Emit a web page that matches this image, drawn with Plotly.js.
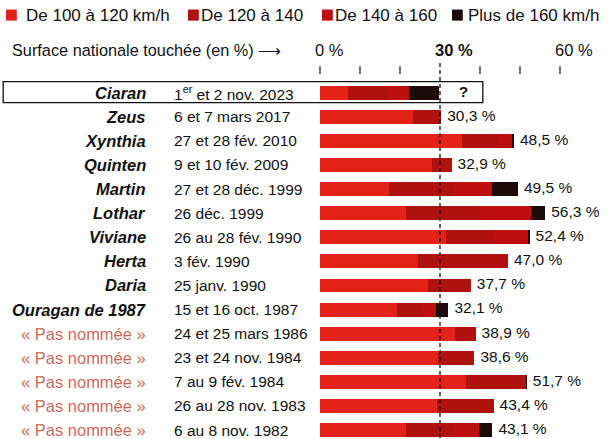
<!DOCTYPE html>
<html>
<head>
<meta charset="utf-8">
<script src="https://cdn.plot.ly/plotly-3.0.1.min.js"></script>
<style>html,body{margin:0;padding:0;background:#fff;}#chart{width:608px;height:439px;}</style>
</head>
<body>
<div id="chart"></div>
<script>
// ---- data ----
const names = ["Ciaran","Zeus","Xynthia","Quinten","Martin","Lothar","Viviane","Herta","Daria","Ouragan de 1987",
  "« Pas nommée »","« Pas nommée »","« Pas nommée »","« Pas nommée »","« Pas nommée »"];
const dates = ["1<sup>er</sup> et 2 nov. 2023","6 et 7 mars 2017","27 et 28 fév. 2010","9 et 10 fév. 2009","27 et 28 déc. 1999",
  "26 déc. 1999","26 au 28 fév. 1990","3 fév. 1990","25 janv. 1990","15 et 16 oct. 1987",
  "24 et 25 mars 1986","23 et 24 nov. 1984","7 au 9 fév. 1984","26 au 28 nov. 1983","6 au 8 nov. 1982"];
const named = [true,true,true,true,true,true,true,true,true,true,false,false,false,false,false];
const seriesNames = ["De 100 à 120 km/h","De 120 à 140","De 140 à 160","Plus de 160 km/h"];
const v100_120 = [7.1,23.3,35.4,27.9,17.3,21.5,31.5,24.6,26.9,19.2,33.7,29.6,36.5,29.3,21.5];
const v120_140 = [9.9,7.0,9.0,5.0,16.0,18.5,12.0,22.4,10.8,6.0,5.2,9.0,14.9,14.1,12.0];
const v140_160 = [5.3,0,3.6,0,9.8,12.7,8.4,0,0,3.8,0,0,0,0,6.2];
const v160 = [7.4,0,0.5,0,6.4,3.6,0.5,0,0,3.1,0,0,0.3,0,3.4];
const totalLabels = ["?","30,3 %","48,5 %","32,9 %","49,5 %","56,3 %","52,4 %","47,0 %","37,7 %","32,1 %",
  "38,9 %","38,6 %","51,7 %","43,4 %","43,1 %"];
const axisTicks = [0,10,20,30,40,50,60];
const axisLabels = {0:"0 %",30:"<b>30 %</b>",60:"60 %"};
const refLine = 30;

// ---- styles ----
const colors = ["#e3231a","#b0130f","#bc0f0e","#1c0b09"];
const FONT = "Liberation Sans, Arial, sans-serif";
const rows = names.map((_, i) => i);
const series = [v100_120, v120_140, v140_160, v160];

const traces = series.map((vals, k) => ({
  type: "bar", orientation: "h", y: rows, x: vals, name: seriesNames[k],
  marker: {color: colors[k], line: {width: 0}}, hoverinfo: "skip", showlegend: false
}));

const totals = rows.map(i => series.reduce((s, a) => s + a[i], 0));
traces.push({
  type: "scatter", mode: "text", y: rows,
  x: totals.map((t, i) => i === 0 ? t + 5.0 : t + 1.5),
  text: totalLabels.map((t, i) => i === 0 ? "<b>" + t + "</b>" : t),
  textposition: "middle right", cliponaxis: false,
  textfont: {family: FONT, size: 15.5, color: "#111"}, hoverinfo: "skip", showlegend: false
});

const shapes = [];
const annotations = [];

// dashed reference line
shapes.push({type: "line", xref: "x", yref: "y", x0: refLine, x1: refLine, y0: -1.23, y1: 14.4,
  line: {color: "#111", width: 1.3, dash: "4px,3px"}, layer: "above"});
// ticks
axisTicks.forEach(t => {
  if (t === refLine) return;
  shapes.push({type: "line", xref: "x", yref: "y", x0: t, x1: t, y0: -1.1, y1: -0.78,
    line: {color: "#222", width: 1.3}});
});
Object.keys(axisLabels).forEach(k => {
  annotations.push({x: +k - 1.8, y: -1.77, xref: "x", yref: "y", text: axisLabels[k], showarrow: false,
    xanchor: "left", yanchor: "middle", font: {family: FONT, size: 16.5, color: "#111"}});
});
annotations.push({x: -77.5, y: -1.77, xref: "x", yref: "y", text: "Surface nationale touchée (en %) ⟶",
  showarrow: false, xanchor: "left", yanchor: "middle", font: {family: FONT, size: 16.3, color: "#111"}});

// Ciaran box
shapes.push({type: "rect", xref: "x", yref: "y", x0: -79.2, x1: 40.7, y0: -0.46, y1: 0.41,
  line: {color: "#111", width: 1.3}, fillcolor: "rgba(0,0,0,0)", layer: "above"});

// row labels
rows.forEach(i => {
  annotations.push({x: -43, y: i, xref: "x", yref: "y", showarrow: false, xanchor: "right", yanchor: "middle",
    text: named[i] ? "<b><i>" + names[i] + "</i></b>" : names[i],
    font: {family: FONT, size: 16.5, color: named[i] ? "#111" : "#d0675c"}});
  annotations.push({x: -37, y: i, xref: "x", yref: "y", showarrow: false, xanchor: "left", yanchor: "middle",
    text: dates[i], font: {family: FONT, size: 15.5, color: "#111"}});
});

// legend
const legX = [[-78.5, -74.0], [-33, -30.2], [0.5, 3.3], [33, 36.5]];
seriesNames.forEach((n, k) => {
  shapes.push({type: "rect", xref: "x", yref: "y", x0: legX[k][0], x1: legX[k][0] + 2.7, y0: -3.45, y1: -2.99,
    fillcolor: colors[k], line: {width: 0}});
  annotations.push({x: legX[k][1], y: -3.2, xref: "x", yref: "y", text: n, showarrow: false,
    xanchor: "left", yanchor: "middle", font: {family: FONT, size: 17, color: "#111"}});
});

const layout = {
  width: 608, height: 439, margin: {l: 0, r: 0, t: 0, b: 0},
  paper_bgcolor: "#fff", plot_bgcolor: "#fff",
  barmode: "stack", bargap: 0.42,
  xaxis: {range: [-80, 72], visible: false, fixedrange: true},
  yaxis: {range: [14.37, -3.846], visible: false, fixedrange: true},
  shapes: shapes, annotations: annotations, showlegend: false
};
Plotly.newPlot("chart", traces, layout, {displayModeBar: false, staticPlot: true});
</script>
</body>
</html>
